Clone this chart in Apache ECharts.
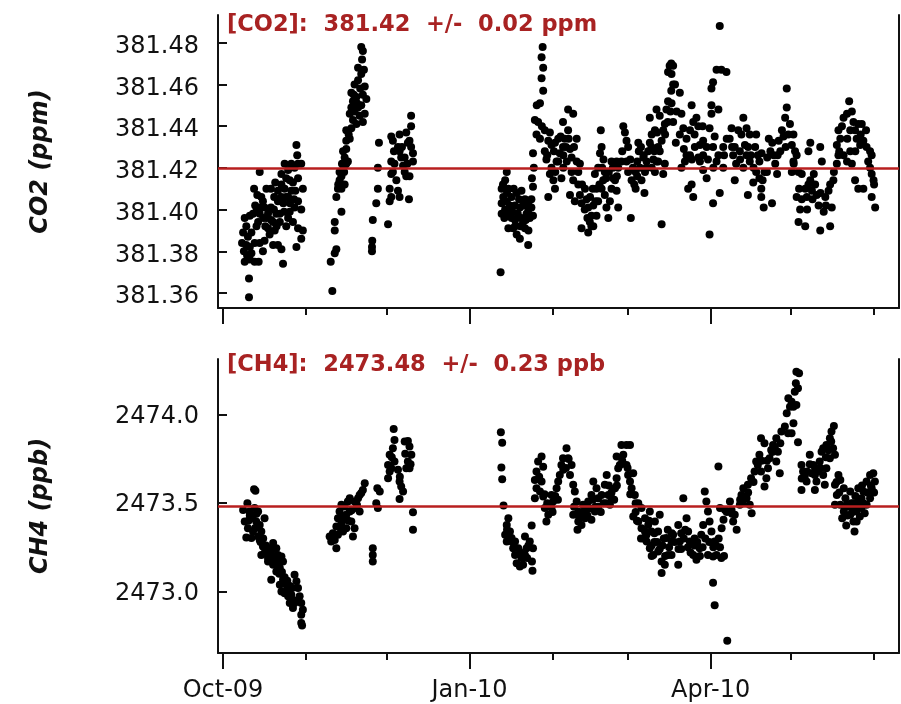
<!DOCTYPE html>
<html><head><meta charset="utf-8">
<script src="https://cdn.jsdelivr.net/npm/echarts@6/dist/echarts.min.js"></script>
<style>html,body{margin:0;padding:0;background:#fff}#c{width:901px;height:704px}</style>
</head><body><div id="c"></div>
<script>
// ---------- data ----------
const startDate = '2009-10-01';           // day 0 of the day offsets below
const xMajorDates = ['2009-10-01', '2010-01-01', '2010-04-01'];
const xMajorLabels = ['Oct-09', 'Jan-10', 'Apr-10'];
const xMinorDates = ['2009-11-01', '2009-12-01', '2010-02-01', '2010-03-01', '2010-05-01', '2010-06-01'];
const xRangeDays = [-1.87, 252.3];

const co2Ticks = [381.36, 381.38, 381.40, 381.42, 381.44, 381.46, 381.48];
const co2Range = [381.3528, 381.4933];
const ch4Ticks = [2473.0, 2473.5, 2474.0];
const ch4Range = [2472.651, 2474.317];

const co2Mean = 381.42, co2Err = 0.02;
const ch4Mean = 2473.48, ch4Err = 0.23;

// CO2 points: [day offset, ppm]
const co2Oct = [[9.7,381.358],[9.7,381.367],[8.1,381.375],[10.0,381.376],[11.8,381.375],[13.3,381.375],[7.1,381.384],[8.7,381.383],[10.0,381.382],[10.6,381.379],[7.5,381.389],[9.3,381.387],[8.1,381.396],[10.0,381.397],[11.2,381.398],[12.4,381.399],[13.7,381.398],[11.6,381.410],[12.8,381.407],[14.3,381.406],[13.7,381.418],[15.5,381.401],[16.2,381.396],[16.8,381.391],[17.4,381.388],[15.5,381.385],[14.9,381.380],[18.7,381.383],[20.5,381.383],[22.4,381.374],[17.9,381.410],[19.1,381.406],[20.5,381.404],[19.9,381.398],[18.7,381.394],[21.8,381.417],[23.0,381.422],[24.3,381.419],[24.9,381.414],[23.0,381.410],[21.8,381.406],[24.3,381.406],[25.5,381.409],[26.1,381.413],[27.4,381.431],[27.7,381.426],[28.0,381.422],[29.2,381.422],[28.0,381.415],[29.8,381.410],[28.0,381.404],[29.2,381.400],[26.7,381.401],[24.9,381.399],[24.3,381.396],[26.1,381.394],[28.0,381.391],[29.8,381.390],[29.2,381.386],[27.4,381.382],[21.8,381.381],[23.6,381.392],[21.2,381.394],[19.3,381.390],[16.8,381.398],[17.9,381.401],[14.9,381.404],[16.2,381.410],[21.8,381.412],[20.5,381.409],[26.7,381.420],[25.5,381.422],[23.6,381.415],[21.2,381.398],[13.1,381.394],[10.6,381.389],[8.7,381.392],[11.8,381.384],[13.7,381.384],[12.0,381.402],[14.0,381.401],[15.0,381.396],[18.0,381.395],[20.0,381.392],[22.5,381.403],[25.0,381.403],[27.0,381.409],[22.8,381.399],[19.5,381.413],[9.0,381.378],[7.8,381.380],[12.5,381.392],[15.8,381.392],[19.0,381.400],[23.5,381.406],[26.5,381.405]];
const co2Nov = [[40.8,381.361],[40.2,381.375],[41.7,381.379],[42.3,381.381],[41.7,381.390],[41.7,381.394],[44.2,381.399],[42.3,381.406],[42.9,381.410],[43.5,381.414],[44.2,381.416],[44.8,381.419],[43.5,381.418],[45.4,381.421],[46.0,381.422],[45.4,381.425],[44.8,381.428],[46.0,381.429],[46.6,381.423],[44.2,381.410],[45.4,381.412],[46.0,381.433],[47.3,381.434],[46.0,381.438],[47.9,381.439],[48.5,381.443],[47.3,381.446],[49.1,381.447],[50.4,381.449],[48.5,381.452],[49.8,381.454],[47.9,381.456],[49.1,381.460],[50.4,381.462],[51.6,381.465],[52.9,381.459],[52.2,381.455],[51.6,381.450],[52.9,381.446],[52.2,381.442],[51.0,381.445],[53.5,381.453],[50.4,381.468],[51.9,381.472],[51.6,381.478],[52.2,381.476],[52.6,381.467],[47.9,381.449],[49.8,381.441],[46.9,381.436],[45.2,381.418],[44.4,381.422],[48.8,381.455],[50.0,381.451],[51.2,381.458],[43.0,381.412]];
const co2Dec = [[58.2,381.432],[57.8,381.420],[57.8,381.410],[57.2,381.403],[55.9,381.395],[55.7,381.385],[55.6,381.382],[55.6,381.380],[61.6,381.393],[62.8,381.435],[63.4,381.433],[62.8,381.423],[63.4,381.418],[62.8,381.417],[62.2,381.410],[62.8,381.406],[62.2,381.404],[65.9,381.406],[65.3,381.409],[65.9,381.436],[65.3,381.430],[66.5,381.425],[67.2,381.421],[67.8,381.418],[68.4,381.416],[69.6,381.416],[68.4,381.437],[69.0,381.432],[69.6,381.433],[70.2,381.430],[70.9,381.427],[70.2,381.445],[70.2,381.440],[69.4,381.405],[70.9,381.423],[64.0,381.422],[65.9,381.428],[67.8,381.425],[64.7,381.414],[68.8,381.422],[66.8,381.430],[63.8,381.428]];
const co2Jan = [[103.6,381.370],[105.9,381.418],[105.3,381.414],[104.0,381.410],[104.6,381.406],[105.9,381.404],[104.0,381.403],[105.3,381.400],[104.0,381.398],[107.1,381.398],[107.7,381.396],[108.3,381.391],[109.6,381.388],[110.8,381.386],[113.9,381.383],[112.7,381.391],[111.4,381.396],[113.3,381.398],[114.5,381.396],[115.7,381.397],[115.1,381.401],[113.9,381.403],[112.7,381.405],[111.4,381.409],[109.6,381.408],[107.7,381.406],[108.9,381.402],[106.5,381.410],[110.8,381.401],[112.0,381.394],[115.1,381.405],[115.7,381.411],[115.3,381.415],[115.7,381.427],[116.0,381.420],[105.0,381.396],[106.5,381.391],[104.5,381.412],[106.0,381.408],[107.0,381.402],[108.0,381.399],[109.0,381.395],[110.0,381.398],[111.0,381.392],[112.0,381.402],[113.0,381.395],[114.0,381.390],[106.0,381.399],[108.5,381.410],[110.5,381.405],[114.0,381.400],[109.0,381.392]];
const co2Feb = [[119.3,381.478],[118.9,381.473],[119.5,381.468],[118.9,381.463],[119.5,381.457],[118.3,381.451],[117.1,381.450],[116.4,381.443],[117.6,381.442],[117.0,381.436],[118.3,381.434],[120.1,381.438],[121.4,381.433],[122.6,381.431],[120.1,381.428],[120.7,381.424],[122.6,381.420],[122.0,381.417],[123.3,381.414],[123.9,381.410],[121.4,381.406],[126.3,381.415],[125.1,381.423],[125.7,381.427],[126.9,381.430],[127.5,381.434],[128.8,381.438],[126.9,381.442],[128.8,381.448],[130.7,381.446],[129.5,381.429],[130.1,381.425],[132.0,381.434],[132.0,381.423],[133.2,381.422],[132.6,381.418],[130.1,381.418],[129.5,381.407],[128.3,381.423],[124.5,381.423],[123.9,381.432],[125.1,381.434],
  [130.7,381.414],[131.3,381.404],[132.6,381.412],[133.2,381.407],[133.8,381.403],[135.1,381.410],[135.7,381.405],[136.3,381.401],[137.5,381.397],[136.9,381.394],[136.3,381.389],[133.8,381.391],[138.2,381.392],[139.4,381.397],[140.0,381.404],[139.4,381.410],[138.8,381.417],[140.0,381.420],[140.7,381.427],[141.3,381.430],[141.0,381.438],[142.5,381.418],[141.9,381.414],[142.5,381.407],[143.1,381.401],[143.8,381.396],[144.4,381.404],[145.0,381.410],[145.6,381.415],[146.3,381.414],[146.9,381.409],[147.5,381.401],[145.0,381.423],[146.9,381.423],[147.5,381.420],[141.3,381.410],[138.2,381.402],
  [119.0,381.440],[121.0,381.426],[122.0,381.437],[123.5,381.428],[124.0,381.418],[126.0,381.435],[127.0,381.426],[128.0,381.430],[129.0,381.434],[131.0,381.430],[127.0,381.420],[134.0,381.412],[135.0,381.400],[136.0,381.396],[137.0,381.406],[138.0,381.410],[139.0,381.404],[140.5,381.412],[141.5,381.420],[143.0,381.415],[144.0,381.418],[145.5,381.420],[147.0,381.416],[142.0,381.424],[137.5,381.392]];
const co2Mar = [[148.7,381.423],[149.4,381.440],[150.0,381.437],[150.6,381.433],[151.2,381.430],[150.6,381.423],[151.2,381.418],[152.5,381.414],[152.2,381.396],[154.0,381.418],[154.6,381.423],[155.2,381.428],[154.0,381.410],[154.6,381.416],[156.2,381.414],[157.5,381.418],[158.1,381.423],[158.7,381.428],[159.3,381.432],[159.9,381.430],[160.6,381.424],[161.2,381.418],[161.8,381.423],[162.4,381.430],[163.7,381.433],[164.3,381.438],[164.9,381.441],[165.5,381.448],[166.1,381.452],[159.3,381.444],[161.8,381.448],[161.2,381.438],[163.7,381.393],[164.3,381.417],[162.4,381.423],[164.9,381.422],[157.3,381.408],[155.6,381.420],[156.9,381.425],[166.1,381.466],[166.7,381.469],[167.3,381.470],[168.0,381.460],[167.3,381.457],
  [149.0,381.428],[152.0,381.424],[153.0,381.420],[155.0,381.432],[156.0,381.430],[157.0,381.426],[158.0,381.420],[160.0,381.436],[161.0,381.428],[162.0,381.437],[163.0,381.428],[165.0,381.436],[166.0,381.442],[167.0,381.447],[163.0,381.445],[160.0,381.420],[153.5,381.412]];
const co2Apr = [[168.0,381.469],[167.4,381.465],[168.7,381.460],[170.5,381.456],[167.4,381.451],[169.3,381.447],[168.0,381.442],[171.1,381.446],[171.8,381.439],[170.5,381.436],[173.0,381.434],[174.3,381.438],[174.9,381.450],[175.5,381.442],[176.7,381.444],[177.4,381.440],[176.1,381.430],[178.0,381.431],[179.2,381.433],[180.5,381.430],[179.2,381.426],[177.4,381.425],[174.3,381.426],[172.4,381.423],[171.1,381.420],[173.6,381.410],[175.5,381.406],[174.9,381.412],[179.2,381.419],[180.5,381.415],[182.9,381.403],[185.4,381.408],[181.6,381.388],[182.3,381.450],[182.3,381.458],[182.9,381.461],[184.2,381.467],[186.0,381.467],[187.9,381.466],[185.4,381.488],[182.3,381.446],[184.9,381.448],[181.6,381.439],[183.5,381.435],[182.9,381.430],[186.7,381.430],[184.9,381.426],[184.2,381.423],[186.7,381.420],[190.4,381.426],[189.8,381.439],[189.1,381.434],[191.0,381.430],[192.3,381.438],[194.2,381.444],[193.5,381.436],[195.4,381.439],[196.6,381.436],[194.8,381.431],[192.9,381.428],[195.4,381.426],[196.6,381.423],[194.2,381.420],[191.0,381.414],[195.9,381.407],[197.9,381.413],[199.0,381.436],[198.6,381.430],[199.6,381.426],[200.2,381.423],[199.0,381.418],[200.2,381.415],[201.4,381.414],[202.1,381.418],[200.9,381.410],[200.9,381.406],[201.8,381.401],[204.9,381.403],[203.1,381.425],[203.7,381.434],[204.3,381.428],[205.5,381.426],[206.1,381.422],[206.8,381.417],[207.4,381.433],[208.6,381.438],[209.2,381.435],[209.8,381.444],
  [169.0,381.432],[172.0,381.429],[173.0,381.426],[175.0,381.424],[176.0,381.436],[178.0,381.423],[179.0,381.440],[181.0,381.424],[183.0,381.420],[187.0,381.426],[188.0,381.434],[190.0,381.430],[191.5,381.422],[193.0,381.424],[196.0,381.430],[197.0,381.426],[198.0,381.420],[201.0,381.427],[203.0,381.418],[205.0,381.432],[207.0,381.426],[208.0,381.428]];
const co2May = [[210.4,381.449],[210.4,381.458],[211.6,381.441],[212.9,381.436],[212.3,381.431],[213.5,381.428],[214.1,381.426],[212.9,381.423],[212.3,381.418],[214.8,381.418],[216.0,381.417],[214.1,381.406],[215.4,381.400],[214.8,381.394],[217.3,381.392],[218.5,381.412],[219.2,381.414],[217.3,381.410],[217.9,381.406],[219.8,381.409],[221.0,381.412],[221.6,381.407],[222.3,381.402],[222.9,381.390],[224.2,381.399],[224.8,381.406],[226.0,381.409],[226.6,381.412],[226.6,381.392],[227.2,381.401],[227.8,381.414],[218.5,381.428],[219.2,381.432],[222.9,381.430],[223.5,381.423],[220.5,381.417],[229.1,381.422],[229.7,381.426],[229.1,381.431],[230.4,381.434],[229.7,381.438],[231.0,381.440],[231.6,381.444],[232.9,381.446],[233.7,381.452],[234.7,381.447],[235.3,381.442],[234.1,381.438],[235.9,381.438],[237.1,381.441],[238.4,381.441],[236.5,381.434],[237.8,381.431],[239.0,381.433],[240.2,381.430],[241.5,381.428],[242.1,381.426],[240.8,381.423],[241.5,381.420],[242.1,381.417],[242.8,381.414],[242.1,381.406],[243.4,381.401],[235.9,381.414],[237.1,381.410],[239.0,381.410],[234.1,381.428],[232.9,381.423],[231.6,381.426],[234.7,381.422],
  [210.0,381.430],[211.0,381.436],[213.0,381.422],[215.0,381.410],[216.0,381.405],[218.0,381.400],[220.0,381.405],[223.0,381.408],[225.0,381.402],[228.0,381.418],[230.0,381.428],[233.0,381.434],[236.0,381.428],[238.0,381.436],[240.0,381.438],[243.0,381.412]];

// CH4 points: [day offset, ppb]
const ch4Oct = [[11.6,2473.579],[12.1,2473.570],[7.5,2473.462],[9.1,2473.500],[9.9,2473.453],[8.1,2473.396],[9.3,2473.358],[8.7,2473.306],[10.6,2473.415],[11.8,2473.472],[13.1,2473.453],[12.4,2473.396],[11.2,2473.340],[13.7,2473.377],[15.5,2473.415],[14.3,2473.340],[13.7,2473.292],[14.9,2473.255],[14.3,2473.207],[16.2,2473.217],[16.8,2473.170],[17.4,2473.245],[18.7,2473.274],[19.9,2473.245],[20.5,2473.207],[21.8,2473.198],[22.4,2473.170],[21.2,2473.132],[19.9,2473.113],[18.7,2473.151],[18.0,2473.066],[16.8,2473.189],[15.5,2473.217],[19.3,2473.189],[22.4,2473.066],[21.8,2473.000],[23.6,2473.038],[24.3,2473.000],[25.5,2472.981],[24.9,2472.934],[26.7,2473.094],[27.4,2473.057],[28.0,2473.019],[28.6,2472.972],[29.2,2472.934],[29.8,2472.896],[29.2,2472.868],[29.2,2472.821],[29.5,2472.807],[26.7,2472.934],[26.1,2472.906],[24.3,2472.972],[23.0,2472.990],[21.2,2473.038],[18.0,2473.170],[10.6,2473.302],[13.1,2473.311],[10.0,2473.430],[12.0,2473.360],[15.0,2473.300],[17.0,2473.210],[20.5,2473.150],[23.0,2473.080],[25.8,2473.020],[27.8,2472.950],
  [9.5,2473.400],[11.0,2473.420],[12.5,2473.440],[14.0,2473.280],[16.0,2473.260],[18.0,2473.230],[19.5,2473.200],[20.0,2473.170],[21.0,2473.100],[22.0,2473.110],[23.5,2473.000],[24.0,2473.060],[25.0,2473.030],[26.0,2472.950]];
const ch4Nov = [[39.8,2473.311],[40.4,2473.283],[41.0,2473.330],[42.3,2473.245],[42.3,2473.368],[42.9,2473.415],[43.5,2473.453],[44.2,2473.387],[44.8,2473.340],[46.0,2473.434],[45.4,2473.481],[46.6,2473.509],[47.3,2473.453],[47.9,2473.396],[48.5,2473.311],[49.1,2473.358],[49.1,2473.509],[49.8,2473.472],[50.4,2473.528],[51.0,2473.547],[51.6,2473.557],[52.2,2473.575],[52.9,2473.613],[51.0,2473.453],[47.3,2473.528],[44.2,2473.491],[41.7,2473.292],[46.0,2473.358],[42.9,2473.321],[45.0,2473.420],[48.0,2473.460],[50.0,2473.490],[43.8,2473.360],[46.8,2473.400],
  [55.9,2473.245],[55.9,2473.207],[55.9,2473.170],[57.6,2473.585],[58.5,2473.566],[57.2,2473.500],[57.8,2473.472]];
const ch4Dec = [[63.7,2473.921],[64.0,2473.858],[63.4,2473.811],[62.2,2473.774],[61.6,2473.717],[62.2,2473.679],[61.6,2473.641],[64.0,2473.736],[65.3,2473.689],[65.9,2473.623],[66.5,2473.594],[67.2,2473.566],[65.9,2473.524],[67.8,2473.849],[69.0,2473.853],[69.6,2473.821],[70.3,2473.774],[69.0,2473.736],[68.4,2473.698],[69.6,2473.698],[70.9,2473.449],[70.9,2473.349],[62.8,2473.698],[63.0,2473.760],[66.0,2473.650],[68.0,2473.780],[70.0,2473.720]];
const ch4Jan = [[103.7,2473.902],[104.2,2473.843],[103.9,2473.702],[104.2,2473.636],[104.7,2473.487],[106.5,2473.415],[105.9,2473.377],[105.3,2473.321],[105.9,2473.283],[107.1,2473.340],[107.7,2473.302],[108.3,2473.245],[109.0,2473.207],[109.6,2473.160],[110.8,2473.141],[112.0,2473.151],[112.7,2473.207],[113.3,2473.245],[112.7,2473.311],[114.5,2473.283],[115.7,2473.245],[115.3,2473.170],[115.5,2473.117],[115.2,2473.373],[111.4,2473.189],[110.2,2473.245],[109.0,2473.283],[106.0,2473.350],[108.0,2473.280],[111.0,2473.220],[113.5,2473.190],[114.0,2473.260]];
const ch4Feb = [[116.4,2473.528],[117.0,2473.585],[116.4,2473.632],[117.0,2473.679],[117.6,2473.736],[118.9,2473.764],[119.5,2473.707],[118.9,2473.623],[118.3,2473.566],[119.5,2473.538],[120.1,2473.472],[120.7,2473.396],[121.4,2473.434],[122.6,2473.472],[123.2,2473.509],[122.6,2473.547],[124.5,2473.585],[125.1,2473.623],[125.7,2473.660],[126.3,2473.717],[126.9,2473.755],[128.2,2473.811],[128.8,2473.755],[130.1,2473.717],[129.5,2473.660],[130.7,2473.604],[131.3,2473.566],[132.0,2473.509],[132.6,2473.453],[132.3,2473.349],[130.7,2473.434],[132.6,2473.396],[133.8,2473.377],[135.1,2473.415],[135.7,2473.472],[136.3,2473.509],[134.4,2473.491],[137.5,2473.547],[138.2,2473.623],[139.4,2473.585],[140.0,2473.528],[138.8,2473.453],[137.5,2473.406],[141.3,2473.547],[142.5,2473.604],[143.2,2473.660],[143.8,2473.547],[144.4,2473.491],[145.0,2473.528],[146.3,2473.585],[146.9,2473.641],[147.5,2473.698],[134.0,2473.440],[136.0,2473.430],[139.0,2473.480],[142.0,2473.500],[144.0,2473.600],[127.0,2473.690],[124.0,2473.540],[121.0,2473.500],
  [118.0,2473.650],[120.0,2473.550],[123.0,2473.450],[125.0,2473.520],[128.0,2473.700],[129.0,2473.750],[131.0,2473.480],[133.0,2473.420],[135.0,2473.460],[137.0,2473.470],[138.0,2473.520],[140.0,2473.480],[141.0,2473.450],[143.0,2473.500],[145.0,2473.560],[146.0,2473.520],[147.0,2473.600]];
const ch4Mar = [[148.1,2473.717],[146.9,2473.764],[148.7,2473.830],[150.6,2473.830],[151.9,2473.830],[149.4,2473.774],[150.6,2473.717],[151.2,2473.660],[151.9,2473.623],[153.1,2473.670],[152.5,2473.585],[153.7,2473.547],[155.0,2473.500],[156.2,2473.472],[153.1,2473.424],[155.0,2473.396],[156.2,2473.358],[157.5,2473.340],[158.7,2473.377],[159.9,2473.340],[158.1,2473.283],[159.3,2473.245],[160.6,2473.207],[162.4,2473.226],[163.7,2473.170],[163.7,2473.104],[164.9,2473.151],[166.1,2473.207],[167.4,2473.283],[165.5,2473.302],[162.4,2473.340],[161.2,2473.396],[163.0,2473.434],[159.3,2473.453],[157.5,2473.415],[154.0,2473.450],[157.0,2473.300],[161.0,2473.280],[164.0,2473.260],[166.0,2473.350],[160.0,2473.200],[165.0,2473.200],
  [152.0,2473.550],[154.5,2473.400],[156.0,2473.300],[158.0,2473.320],[160.0,2473.260],[161.0,2473.330],[162.0,2473.280],[163.0,2473.240],[164.5,2473.300],[166.5,2473.250],[167.5,2473.330],[159.0,2473.400],[151.0,2473.700],[149.0,2473.740],[154.0,2473.500]];
const ch4Apr = [[168.0,2473.321],[167.4,2473.207],[169.9,2473.377],[170.5,2473.283],[169.9,2473.151],[171.8,2473.528],[173.0,2473.415],[173.6,2473.340],[174.2,2473.283],[175.5,2473.207],[176.7,2473.179],[177.9,2473.245],[178.5,2473.321],[179.2,2473.377],[179.8,2473.566],[180.4,2473.509],[181.0,2473.453],[181.6,2473.396],[182.3,2473.340],[183.5,2473.283],[184.2,2473.207],[186.0,2473.189],[182.9,2473.198],[181.0,2473.207],[182.9,2473.049],[183.5,2472.921],[188.2,2472.721],[184.9,2473.708],[185.5,2473.472],[186.1,2473.358],[186.8,2473.406],[187.4,2473.462],[189.2,2473.509],[189.8,2473.462],[191.0,2473.434],[191.7,2473.349],[190.4,2473.396],[192.9,2473.491],[193.5,2473.547],[194.2,2473.585],[195.4,2473.528],[196.6,2473.491],[197.3,2473.443],[195.9,2473.604],[197.1,2473.641],[198.4,2473.679],[199.0,2473.736],[200.2,2473.774],[199.6,2473.717],[200.8,2473.679],[202.1,2473.594],[202.8,2473.641],[203.4,2473.698],[204.0,2473.755],[204.6,2473.802],[205.3,2473.830],[206.5,2473.868],[207.1,2473.792],[206.5,2473.736],[207.8,2473.670],[200.8,2473.868],[202.1,2473.840],[172.0,2473.300],[176.0,2473.260],[178.0,2473.200],[185.0,2473.300],[171.0,2473.240],
  [168.5,2473.280],[170.0,2473.240],[171.0,2473.330],[172.5,2473.350],[173.5,2473.250],[174.5,2473.220],[176.0,2473.300],[177.0,2473.280],[179.0,2473.250],[180.0,2473.300],[181.5,2473.280],[183.0,2473.250],[184.0,2473.260],[185.5,2473.250],[187.0,2473.200],[188.0,2473.450],[190.0,2473.440],[193.0,2473.520],[194.0,2473.500],[196.0,2473.560],[198.0,2473.620],[201.0,2473.740],[203.0,2473.740],[205.0,2473.790],[206.0,2473.810],[208.0,2473.840]];
const ch4May = [[208.4,2473.906],[209.7,2473.934],[210.9,2473.896],[212.2,2473.896],[210.4,2474.009],[211.0,2474.094],[211.6,2474.047],[212.9,2474.047],[212.2,2474.075],[214.0,2474.057],[213.4,2474.132],[214.6,2474.151],[213.8,2474.179],[214.0,2474.245],[215.0,2474.236],[214.6,2473.845],[212.9,2473.953],[215.9,2473.717],[216.5,2473.679],[217.1,2473.651],[215.9,2473.575],[217.8,2473.623],[219.0,2473.774],[220.3,2473.717],[220.9,2473.660],[219.7,2473.670],[221.5,2473.623],[220.9,2473.575],[222.7,2473.736],[223.4,2473.792],[224.0,2473.811],[225.2,2473.830],[226.5,2473.868],[227.1,2473.906],[228.0,2473.938],[227.7,2473.811],[228.4,2473.774],[226.5,2473.755],[225.2,2473.698],[224.0,2473.660],[222.2,2473.679],[224.6,2473.604],[229.7,2473.660],[228.4,2473.604],[229.1,2473.547],[228.4,2473.491],[230.4,2473.491],[231.7,2473.453],[231.1,2473.415],[232.6,2473.373],[234.1,2473.434],[235.3,2473.396],[235.7,2473.340],[235.3,2473.500],[236.5,2473.453],[237.1,2473.509],[234.1,2473.566],[231.7,2473.585],[230.4,2473.632],[238.3,2473.528],[239.0,2473.566],[240.2,2473.623],[241.5,2473.660],[242.7,2473.670],[243.3,2473.623],[242.1,2473.585],[241.5,2473.528],[240.2,2473.491],[238.3,2473.472],[239.5,2473.443],[236.5,2473.396],[237.7,2473.424],[232.9,2473.491],[232.3,2473.528],[237.1,2473.585],[233.5,2473.480],[236.0,2473.540],
  [216.0,2473.640],[218.0,2473.680],[219.0,2473.720],[221.0,2473.700],[223.0,2473.700],[225.0,2473.760],[226.0,2473.800],[227.0,2473.850],[229.0,2473.620],[230.0,2473.560],[232.0,2473.480],[233.0,2473.430],[234.5,2473.500],[236.0,2473.480],[237.5,2473.480],[239.0,2473.500],[240.5,2473.560],[241.8,2473.600],[243.0,2473.560],[238.5,2473.600],[235.0,2473.450]];

// ---------- build ----------
const DAY = 86400000;
const t0 = new Date(startDate).getTime();
const toTs = d => t0 + d * DAY;
const toPts = arrs => [].concat(...arrs).map(p => [toTs(p[0]), p[1]]);
const co2Data = toPts([co2Oct, co2Nov, co2Dec, co2Jan, co2Feb, co2Mar, co2Apr, co2May]);
const ch4Data = toPts([ch4Oct, ch4Nov, ch4Dec, ch4Jan, ch4Feb, ch4Mar, ch4Apr, ch4May]);
const majorTs = xMajorDates.map(s => new Date(s).getTime());
const minorTs = xMinorDates.map(s => new Date(s).getTime());
const xMin = toTs(xRangeDays[0]), xMax = toTs(xRangeDays[1]);

const FONT = 'DejaVu Sans';
const INK = '#111';
const RED_TXT = '#a82222';
const RED_LINE = '#b81f1f';

function xAxes(gi, showLabels) {
  return [
    { type: 'value', gridIndex: gi, min: xMin, max: xMax, position: 'bottom',
      axisLine: { show: true, onZero: false, lineStyle: { color: INK, width: 2 } },
      axisTick: { show: true, inside: false, length: 7, customValues: minorTs, lineStyle: { color: INK, width: 2 } },
      axisLabel: { show: false }, splitLine: { show: false } },
    { type: 'value', gridIndex: gi, min: xMin, max: xMax, position: 'bottom',
      axisLine: { show: false, onZero: false },
      axisTick: { show: true, inside: false, length: 16, customValues: majorTs, lineStyle: { color: INK, width: 2 } },
      axisLabel: { show: showLabels, customValues: majorTs, margin: 26, fontFamily: FONT, fontSize: 24, color: INK,
        formatter: v => { const i = majorTs.indexOf(v); return i >= 0 ? xMajorLabels[i] : ''; } },
      splitLine: { show: false } }
  ];
}
function yAxes(gi, range, ticks, digits, name, padTop) {
  return [
    { type: 'value', gridIndex: gi, min: range[0], max: range[1], position: 'left',
      axisLine: { show: true, onZero: false, lineStyle: { color: INK, width: 2 } },
      axisTick: { show: true, inside: true, length: 9, customValues: ticks, lineStyle: { color: INK, width: 2 } },
      axisLabel: { customValues: ticks, margin: 19, fontFamily: FONT, fontSize: 24, color: INK,
        formatter: v => '{t|' + v.toFixed(digits) + '}',
        rich: { t: { fontFamily: FONT, fontSize: 24, color: INK, padding: [padTop, 0, 0, 0] } } },
      splitLine: { show: false },
      name: name, nameLocation: 'middle', nameGap: 165, nameRotate: 90,
      nameTextStyle: { fontFamily: FONT, fontSize: 24, fontWeight: 'bold', fontStyle: 'italic', color: INK } },
    { type: 'value', gridIndex: gi, min: range[0], max: range[1], position: 'right',
      axisLine: { show: true, onZero: false, lineStyle: { color: INK, width: 2 } },
      axisTick: { show: false }, axisLabel: { show: false }, splitLine: { show: false } }
  ];
}
function meanLine(v) {
  return { silent: true, symbol: 'none', label: { show: false },
    lineStyle: { color: RED_LINE, width: 2.5, type: 'solid', opacity: 1 }, data: [{ yAxis: v }] };
}

const option = {
  animation: false,
  backgroundColor: '#fff',
  title: [
    { text: '[CO2]:  ' + co2Mean.toFixed(2) + '  +/-  ' + co2Err.toFixed(2) + ' ppm', left: 227, top: 14, padding: 0,
      textStyle: { fontFamily: FONT, fontSize: 22.5, fontWeight: 'bold', color: RED_TXT } },
    { text: '[CH4]:  ' + ch4Mean.toFixed(2) + '  +/-  ' + ch4Err.toFixed(2) + ' ppb', left: 227, top: 354, padding: 0,
      textStyle: { fontFamily: FONT, fontSize: 22.5, fontWeight: 'bold', color: RED_TXT } }
  ],
  grid: [
    { left: 218, top: 15, width: 681, height: 293 },
    { left: 218, top: 359, width: 681, height: 294 }
  ],
  xAxis: [...xAxes(0, false), ...xAxes(1, true)],
  yAxis: [...yAxes(0, co2Range, co2Ticks, 2, 'CO2 (ppm)', 8), ...yAxes(1, ch4Range, ch4Ticks, 1, 'CH4 (ppb)', 4)],
  series: [
    { type: 'scatter', xAxisIndex: 0, yAxisIndex: 0, data: co2Data, symbolSize: 8,
      itemStyle: { color: '#000', opacity: 1 }, markLine: meanLine(co2Mean) },
    { type: 'scatter', xAxisIndex: 2, yAxisIndex: 2, data: ch4Data, symbolSize: 8,
      itemStyle: { color: '#000', opacity: 1 }, markLine: meanLine(ch4Mean) }
  ]
};
echarts.init(document.getElementById('c')).setOption(option);
</script>
</body></html>
